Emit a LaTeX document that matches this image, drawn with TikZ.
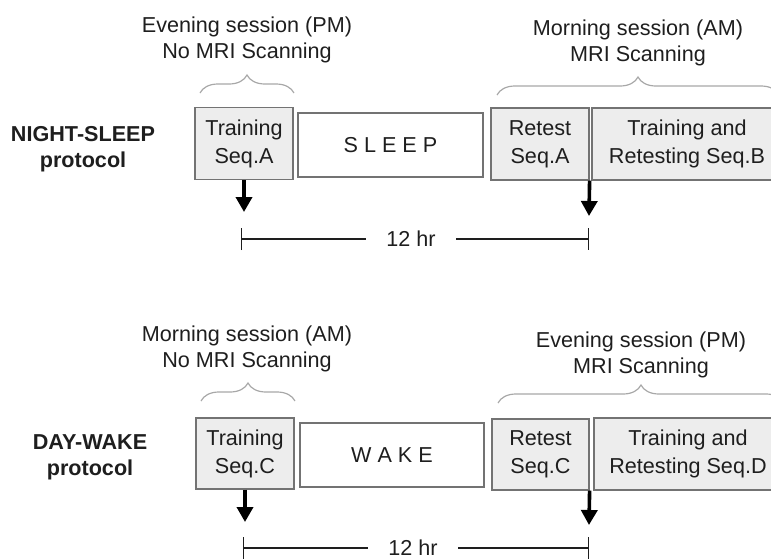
\documentclass[tikz,border=0pt]{standalone}
\usepackage{fontspec}
\setmainfont{Liberation Sans}
\usetikzlibrary{arrows.meta,decorations.pathreplacing}

\definecolor{boxgray}{HTML}{EDEDED}
\definecolor{edgegray}{HTML}{737373}
\definecolor{bracegray}{HTML}{A8A8A8}
\definecolor{inkgray}{HTML}{1E1E1E}

\begin{document}
\begin{tikzpicture}[
                x=0.5pt, y=-0.5pt,
                box/.style={
                        draw=edgegray,
                        line width=0.6pt,
                        align=center,
                        inner sep=0pt,
                        text=inkgray,
                        font=\fontsize{10.8}{14}\selectfont
                    },
                session/.style={box, fill=boxgray, minimum width=49pt, minimum height=36pt},
                state/.style={box, fill=white, minimum width=92.5pt, minimum height=32pt},
                label/.style={align=center, inner sep=0pt, text=inkgray,
                        font=\fontsize{10.8}{13}\selectfont},
                protocol/.style={label, font=\fontsize{10.8}{13}\selectfont\bfseries},
                brace/.style={draw=bracegray, line width=0.6pt, decorate,
                        decoration={brace, amplitude=9pt}},
                arrow/.style={line width=1.8pt, -{Triangle[length=7.5pt, width=8pt]}},
                span/.style={line width=0.7pt, inkgray},
                hours/.style={label, inner xsep=10pt}
            ]

            \clip (0,0) rectangle (771,558);

            % Night-sleep protocol
            \node[protocol] (night) at (83,149.5) {NIGHT-SLEEP\\protocol};
            \node[session] (trainA) at (244,143.5) {Training\\Seq.A};
            \node[state] (sleep) at (390.5,145) {S L E E P};
            \node[session] (retestA) at (540,144) {Retest\\Seq.A};
            \node[session, minimum width=95pt] (trainB) at (687,144) {Training and\\Retesting Seq.B};

            \draw[brace] (200,93) -- (294,93);
            \draw[brace] (497,95) -- (779,95);
            \node[label] (eveA) at (247,39.5) {Evening session (PM)\\No MRI Scanning};
            \node[label] (mornB) at (638,43) {Morning session (AM)\\MRI Scanning};

            \coordinate (endA) at (244,212);
            \coordinate (endB) at (589,216);
            \draw[arrow] (trainA.south) -- (endA);
            \draw[arrow] (retestA.south east) -- (endB);

            \coordinate (tickA) at (241,239);
            \coordinate (tickB) at (589,239);
            \node[hours] (hrA) at (411,239) {12 hr};
            \draw[span, {Bar[width=11pt]}-] (tickA) -- (hrA);
            \draw[span, -{Bar[width=11pt]}] (hrA) -- (tickB);

            % Day-wake protocol
            \node[protocol] (day) at (90,457) {DAY-WAKE\\protocol};
            \node[session, minimum height=35.5pt] (trainC) at (245,453.5) {Training\\Seq.C};
            \node[state, minimum width=92pt] (wake) at (392,455) {W A K E};
            \node[session, minimum width=48.5pt, minimum height=35.5pt] (retestC) at (540.5,454.5) {Retest\\Seq.C};
            \node[session, minimum width=94pt] (trainD) at (688,454) {Training and\\Retesting Seq.D};

            \draw[brace] (201,401) -- (295,401);
            \draw[brace] (498,403) -- (784,403);
            \node[label] (mornC) at (247,349) {Morning session (AM)\\No MRI Scanning};
            \node[label] (eveD) at (641,354.5) {Evening session (PM)\\MRI Scanning};

            \coordinate (endC) at (245,522);
            \coordinate (endD) at (589,525);
            \draw[arrow] (trainC.south) -- (endC);
            \draw[arrow] (retestC.south east) -- (endD);

            \coordinate (tickC) at (243,548);
            \coordinate (tickD) at (589,548);
            \node[hours] (hrB) at (413,548) {12 hr};
            \draw[span, {Bar[width=11pt]}-] (tickC) -- (hrB);
            \draw[span, -{Bar[width=11pt]}] (hrB) -- (tickD);

        \end{tikzpicture}
\end{document}
